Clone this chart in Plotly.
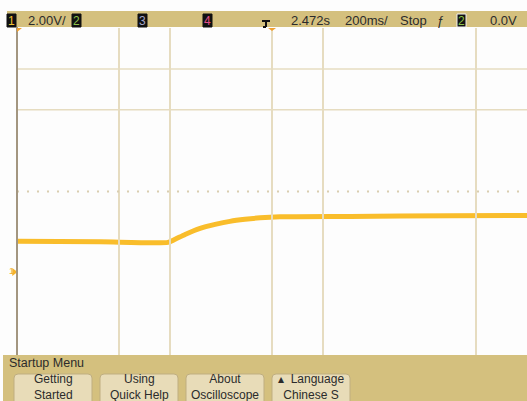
import plotly.graph_objects as go

# Captured waveform, channel 1 (2.00 V/div, 200 ms/div, delay 2.472 s)
time_s = [1.472, 1.800, 2.064, 2.092, 2.131, 2.190, 2.249, 2.307, 2.366,
          2.425, 2.503, 2.778, 3.170, 3.472]
volts = [1.46, 1.44, 1.41, 1.56, 1.80, 2.10, 2.29, 2.44, 2.54,
         2.61, 2.66, 2.68, 2.71, 2.73]

# Scope settings shown in the status line
volts_per_div = 2.0
time_per_div = 0.2
delay_s = 2.472
ch1_offset_v = 3.9          # centre of screen, in volts
status_left = ["2.00V/"]
status_right = ["2.472s", "200ms/", "Stop", "0.0V"]
menu_title = "Startup Menu"
menu_buttons = ["Getting<br>Started", "Using<br>Quick Help",
                "About<br>Oscilloscope", "▴  Language<br>Chinese S"]

W, H = 527, 401
TAN = "#d4c07e"
GRID = "#e6dcc0"
TRACE = "#f9bd2b"
FONT = "Liberation Sans, Arial, sans-serif"

# screen area in pixels
sx0, sx1, sy0, sy1 = 17, 527, 28, 355

t0 = delay_s - 5 * time_per_div
t1 = delay_s + 5 * time_per_div
v_lo = ch1_offset_v - 4 * volts_per_div
v_hi = ch1_offset_v + 4 * volts_per_div

fig = go.Figure()

fig.add_trace(go.Scatter(
    x=time_s, y=volts, mode="lines", xaxis="x2", yaxis="y2",
    line=dict(color=TRACE, width=5, shape="spline", smoothing=0.6),
    hoverinfo="skip", showlegend=False))

# ground reference marker for channel 1
fig.add_trace(go.Scatter(
    x=[14], y=[272], mode="markers", xaxis="x", yaxis="y",
    marker=dict(symbol="triangle-right", size=7, color="#f6b32a"),
    hoverinfo="skip", showlegend=False))

shapes = []

# graticule (only the lines the display draws)
for k in [2, 3, 5, 6, 9]:
    tx = t0 + k * time_per_div
    shapes.append(dict(type="line", xref="x2", yref="y2", x0=tx, x1=tx,
                       y0=v_lo, y1=v_hi, line=dict(color=GRID, width=2)))
for k in [7, 6]:
    vy = v_lo + k * volts_per_div
    shapes.append(dict(type="line", xref="x2", yref="y2", x0=t0, x1=t1,
                       y0=vy, y1=vy, line=dict(color=GRID, width=1.5)))
shapes.append(dict(type="line", xref="x2", yref="y2", x0=t0, x1=t1,
                   y0=ch1_offset_v, y1=ch1_offset_v,
                   line=dict(color="#d9ceb0", width=2, dash="2px,8px")))
# left frame edge
shapes.append(dict(type="line", xref="x", yref="y", x0=sx0, x1=sx0,
                   y0=sy0 - 1, y1=sy1, line=dict(color="#a39680", width=2)))

# status bar and menu panel
shapes.append(dict(type="rect", xref="x", yref="y", x0=7, x1=W, y0=11, y1=27,
                   fillcolor=TAN, line=dict(width=0), layer="below"))
shapes.append(dict(type="rect", xref="x", yref="y", x0=3, x1=W, y0=355, y1=H + 2,
                   fillcolor=TAN, line=dict(width=0)))

# channel number boxes
ch_boxes = [(7, "1", "#f2c233"), (72, "2", "#8cc24a"), (138, "3", "#a6a6c8"),
            (203, "4", "#e0508a"), (457, "2", "#8cc24a")]
for bx, _, _ in ch_boxes:
    shapes.append(dict(type="rect", xref="x", yref="y", x0=bx, x1=bx + 9,
                       y0=14, y1=27, fillcolor="#111111",
                       line=dict(width=1, color="#f2f2f2" if bx == 457 else "#111111")))

# trigger reference icon
shapes.append(dict(type="path", xref="x", yref="y",
                   path="M 262 21 L 270 21 M 266 21 L 266 27 M 263 27 L 266 27",
                   line=dict(color="#111111", width=2)))
shapes.append(dict(type="path", xref="x", yref="y",
                   path="M 268 28 L 276 28 L 272 31 Z",
                   fillcolor="#f0a030", line=dict(width=0)))
shapes.append(dict(type="path", xref="x", yref="y",
                   path="M 17 28 L 22 28 L 17 32 Z",
                   fillcolor="#f0a030", line=dict(width=0)))

# soft-key buttons
btn_x = [14, 100, 186, 272]
r = 4
for bx in btn_x:
    x0, x1, y0, y1 = bx, bx + 78, 374, 404
    p = (f"M {x0+r} {y0} L {x1-r} {y0} Q {x1} {y0} {x1} {y0+r} "
         f"L {x1} {y1} L {x0} {y1} L {x0} {y0+r} Q {x0} {y0} {x0+r} {y0} Z")
    shapes.append(dict(type="path", xref="x", yref="y", path=p,
                       fillcolor="#e8dcb8", line=dict(color="#bfae80", width=1)))

ann = []
for bx, num, col in ch_boxes:
    ann.append(dict(x=bx + 4.5, y=20.5, xref="x", yref="y", text=num,
                    showarrow=False, font=dict(family=FONT, size=12, color=col)))


def label(x, y, text, size=13, anchor="left", color="#2b2b2b"):
    ann.append(dict(x=x, y=y, xref="x", yref="y", text=text, showarrow=False,
                    xanchor=anchor, yanchor="middle",
                    font=dict(family=FONT, size=size, color=color)))


label(26, 20, status_left[0])
label(289, 20, status_right[0])
label(343, 20, status_right[1])
label(398, 20, status_right[2])
label(435, 20, "ƒ")
label(488, 20, status_right[3])
label(7, 363, menu_title, size=12.5)
label(7, 271, "1", size=9, color="#f0b030")

for bx, txt in zip(btn_x, menu_buttons):
    ann.append(dict(x=bx + 39, y=386.5, xref="x", yref="y", text=txt,
                    showarrow=False, xanchor="center", yanchor="middle",
                    align="center",
                    font=dict(family=FONT, size=12, color="#2b2b2b")))

dom_x = [sx0 / W, 1.0]
dom_y = [1 - sy1 / H, 1 - sy0 / H]

fig.update_layout(
    width=W, height=H, margin=dict(l=0, r=0, t=0, b=0),
    paper_bgcolor="#fdfdfd", plot_bgcolor="rgba(0,0,0,0)",
    showlegend=False, shapes=shapes, annotations=ann,
    xaxis=dict(range=[0, W], domain=[0, 1], visible=False, fixedrange=True),
    yaxis=dict(range=[H, 0], domain=[0, 1], visible=False, fixedrange=True),
    xaxis2=dict(range=[t0, t1], domain=dom_x, visible=False, anchor="y2"),
    yaxis2=dict(range=[v_lo, v_hi], domain=dom_y, visible=False, anchor="x2"),
)

fig.write_html("out.html")
